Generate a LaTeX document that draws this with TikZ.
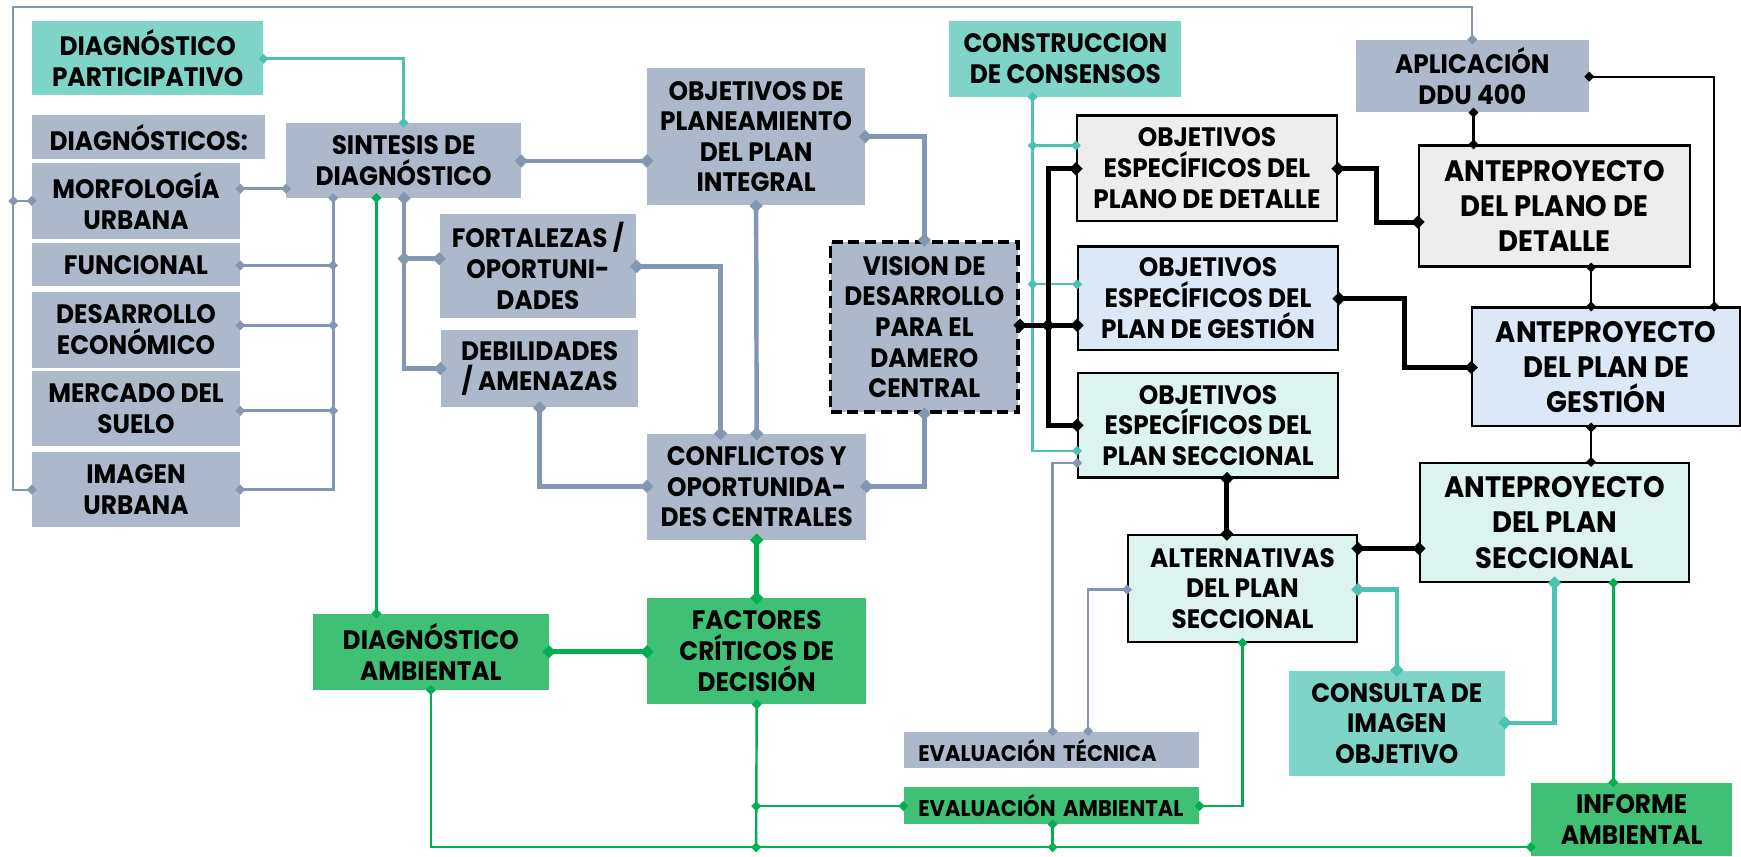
\documentclass[tikz,border=0pt]{standalone}
\usepackage{fontspec}
\setmainfont{Poppins}[FakeStretch=0.93]
\usetikzlibrary{arrows.meta}
\definecolor{gbox}{HTML}{ADB9CA}
\definecolor{gline}{HTML}{8497B0}
\definecolor{tbox}{HTML}{7FD4C8}
\definecolor{tline}{HTML}{4CC3B0}
\definecolor{nbox}{HTML}{40C074}
\definecolor{nline}{HTML}{00B050}
\definecolor{lgray}{HTML}{EDEDED}
\definecolor{lblue}{HTML}{DDE8F6}
\definecolor{lteal}{HTML}{DCF3EF}
\newcommand\bx[7]{\node[#6, minimum width={(#4-#2)*0.5pt}, minimum height={(#5-#3)*0.5pt}] (#1) at ({(#2+#4)/2},{(#3+#5)/2}) {#7};}
\tikzset{
  box/.style={inner sep=0pt, align=center, font=\bfseries\fontsize{12}{13.8}\selectfont, text=black},
  gb/.style={box, fill=gbox},
  tb/.style={box, fill=tbox},
  nb/.style={box, fill=nbox},
  lbx/.style={box, draw=black, line width=1pt},
  big/.style={font=\bfseries\fontsize{13.3}{15.9}\selectfont},
  dsm/.style={{Diamond[length=4.5pt,width=4.5pt]}-{Diamond[length=4.5pt,width=4.5pt]}, shorten <=-2.25pt, shorten >=-2.25pt},
  dlg/.style={{Diamond[length=6pt,width=6pt]}-{Diamond[length=6pt,width=6pt]}, shorten <=-3pt, shorten >=-3pt},
  gthin/.style={dsm, draw=gline, line width=1pt},
  gmed/.style={dsm, draw=gline, line width=1.3pt},
  gthk/.style={dlg, draw=gline, line width=2pt},
  tthin/.style={dsm, draw=tline, line width=1.1pt},
  tmed/.style={dsm, draw=tline, line width=1.3pt},
  tthk/.style={dlg, draw=tline, line width=2pt},
  kthin/.style={dsm, draw=black, line width=1pt},
  kthk/.style={dlg, draw=black, line width=2.2pt},
  nthin/.style={dsm, draw=nline, line width=1.1pt},
  nmed/.style={dsm, draw=nline, line width=1.5pt},
  nthk/.style={dlg, draw=nline, line width=2.4pt},
  evbox/.style={box, font=\bfseries\fontsize{10.2}{12}\selectfont, align=left, text width=120pt, inner xsep=6.5pt, minimum height=16.5pt},
}
\begin{document}
\begin{tikzpicture}[x=0.5pt,y=-0.5pt]
\useasboundingbox (0,0) rectangle (1568,771);
% boxes
\bx{partic}{29}{19}{237}{86}{tb}{DIAGNÓSTICO\\PARTICIPATIVO}
\bx{diags}{29}{104}{239}{143}{gb}{DIAGNÓSTICOS:}
\bx{morfo}{29}{147}{216}{215}{gb}{MORFOLOGÍA\\URBANA}
\bx{func}{29}{219}{216}{258}{gb}{FUNCIONAL}
\bx{desa}{29}{263}{216}{331}{gb}{DESARROLLO\\ECONÓMICO}
\bx{merc}{29}{334}{216}{402}{gb}{MERCADO DEL\\SUELO}
\bx{imag}{29}{407}{216}{475}{gb}{IMAGEN\\URBANA}
\bx{sint}{258}{111}{469}{178}{gb}{SINTESIS DE\\DIAGNÓSTICO}
\bx{objp}{583}{61}{779}{185}{gb}{OBJETIVOS DE\\PLANEAMIENTO\\DEL PLAN\\INTEGRAL}
\bx{fort}{396}{193}{573}{286}{gb}{FORTALEZAS /\\OPORTUNI-\\DADES}
\bx{debi}{397}{297}{575}{367}{gb}{DEBILIDADES\\/ AMENAZAS}
\bx{visi}{748}{218}{917}{371}{gb, draw=black, line width=1.7pt, dash pattern=on 5pt off 2.5pt}{VISION DE\\DESARROLLO\\PARA EL\\DAMERO\\CENTRAL}
\bx{conf}{583}{391}{780}{486}{gb}{CONFLICTOS Y\\OPORTUNIDA-\\DES CENTRALES}
\bx{cons}{855}{19}{1064}{87}{tb}{CONSTRUCCION\\DE CONSENSOS}
\bx{apli}{1221}{36}{1431}{101}{gb}{APLICACIÓN\\DDU 400}
\bx{odet}{970}{104}{1204}{199}{lbx, fill=lgray}{OBJETIVOS\\ESPECÍFICOS DEL\\PLANO DE DETALLE}
\bx{adet}{1278}{131}{1522}{240}{lbx, big, fill=lgray}{ANTEPROYECTO\\DEL PLANO DE\\DETALLE}
\bx{oges}{971}{222}{1205}{315}{lbx, fill=lblue}{OBJETIVOS\\ESPECÍFICOS DEL\\PLAN DE GESTIÓN}
\bx{ages}{1326}{277}{1567}{384}{lbx, big, fill=lblue}{ANTEPROYECTO\\DEL PLAN DE\\GESTIÓN}
\bx{osec}{971}{336}{1205}{430}{lbx, fill=lteal}{OBJETIVOS\\ESPECÍFICOS DEL\\PLAN SECCIONAL}
\bx{asec}{1279}{417}{1521}{524}{lbx, big, fill=lteal}{ANTEPROYECTO\\DEL PLAN\\SECCIONAL}
\bx{alte}{1016}{482}{1222}{578}{lbx, fill=lteal}{ALTERNATIVAS\\DEL PLAN\\SECCIONAL}
\bx{damb}{282}{553}{494}{621}{nb}{DIAGNÓSTICO\\AMBIENTAL}
\bx{fact}{583}{539}{780}{634}{nb}{FACTORES\\CRÍTICOS DE\\DECISIÓN}
\bx{cimg}{1161}{604}{1355}{699}{tb}{CONSULTA DE\\IMAGEN\\OBJETIVO}
\bx{info}{1379}{705}{1560}{771}{nb}{INFORME\\AMBIENTAL}
\node[evbox, fill=gbox] (evt) at (947,675.5) {EVALUACIÓN TÉCNICA};
\node[evbox, fill=nbox] (eva) at (947,725.5) {EVALUACIÓN AMBIENTAL};
% gray connectors
\draw[gthin] (imag.west |- 0,441) -| (12,6) -| (apli.north);
\draw[gthin] (morfo.west |- 0,181) -- (12,181);
\draw[gmed] (morfo.east |- 0,170) -- (sint.west |- 0,170);
\draw[gmed] (sint.south -| 300,0) |- (imag.east |- 0,441);
\draw[gmed] (func.east |- 0,239) -- (300,239);
\draw[gmed] (desa.east |- 0,293) -- (300,293);
\draw[gmed] (merc.east |- 0,370) -- (300,370);
\draw[gthk] (sint.south -| 364,0) |- (debi.west |- 0,332);
\draw[gthk] (364,233) -- (fort.west |- 0,233);
\draw[gthk] (sint.east |- 0,145) -- (objp.west |- 0,145);
\draw[gthk] (objp.east |- 0,123) -| (visi.north);
\draw[gthk] (objp.south) -- (conf.north);
\draw[gthk] (fort.east |- 0,240) -| (conf.north -| 649,0);
\draw[gthk] (debi.south -| 486,0) |- (conf.west |- 0,438);
\draw[gthk] (visi.south) |- (conf.east |- 0,438);
\draw[gthin] (osec.west |- 0,417) -| (evt.north -| 948,0);
\draw[gthin] (alte.west |- 0,531) -| (evt.north -| 980,0);
% teal connectors
\draw[tmed] (partic.east |- 0,53) -| (sint.north);
\draw[tthin] (cons.south -| 930,0) |- (osec.west |- 0,406);
\draw[tthin] (930,131) -- (odet.west |- 0,131);
\draw[tthin] (930,256) -- (oges.west |- 0,256);
\draw[tthk] (alte.east |- 0,531) -| (cimg.north);
\draw[tthk] (cimg.east |- 0,651) -| (asec.south);
% black connectors
\draw[kthk] (visi.east |- 0,293) -- (944,293);
\draw[kthk] (944,293) -- (oges.west |- 0,293);
\draw[kthk] (odet.west |- 0,152) -| (944,383) -- (osec.west |- 0,383);
\draw[kthk] (odet.east |- 0,152) -| (1240,200) -- (adet.west |- 0,200);
\draw[kthk] (oges.east |- 0,269) -| (1265,331) -- (ages.west |- 0,331);
\draw[kthk] (osec.south -| 1105,0) -- (alte.north -| 1105,0);
\draw[kthk] (alte.east |- 0,494) -- (asec.west |- 0,494);
\draw[kthin] (apli.south -| 1327,0) -- (adet.north -| 1327,0);
\draw[kthin] (apli.east |- 0,69) -| (ages.north -| 1544,0);
\draw[kthin] (adet.south -| 1433,0) -- (ages.north -| 1433,0);
\draw[kthin] (ages.south -| 1433,0) -- (asec.north -| 1433,0);
% green connectors
\draw[nthin] (sint.south -| 339,0) -- (damb.north -| 339,0);
\draw[nthk] (conf.south) -- (fact.north);
\draw[nthk] (damb.east |- 0,587) -- (fact.west |- 0,587);
\draw[nthin] (damb.south) |- (info.west |- 0,763);
\draw[nthin] (fact.south) -- (681,763);
\draw[nthin] (681,726) -- (eva.west |- 0,726);
\draw[nthin] (alte.south) |- (eva.east |- 0,726);
\draw[nthin] (eva.south -| 948,0) -- (948,763);
\draw[nmed] (asec.south -| 1453,0) -- (info.north -| 1453,0);
\end{tikzpicture}
\end{document}
